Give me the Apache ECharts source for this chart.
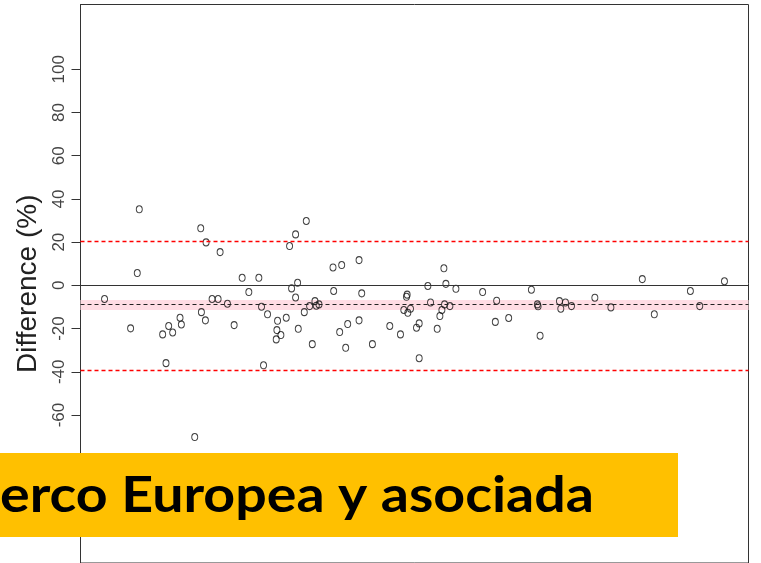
<!DOCTYPE html>
<html>
<head>
<meta charset="utf-8">
<script src="https://cdn.jsdelivr.net/npm/echarts@6/dist/echarts.min.js"></script>
<style>
  html, body { margin: 0; padding: 0; background: #fff; }
  #chart { width: 761px; height: 563px; }
</style>
</head>
<body>
<div id="chart"></div>
<script>
// mean of the two methods (x) and difference in % (y)
var meanVals = [3.6, 7.5, 8.5, 8.8, 12.3, 12.8, 13.2, 13.8, 14.9, 15.1,
  17.1, 18.0, 18.1, 18.7, 18.8, 19.7, 20.6, 20.9, 22.0, 23.0,
  24.2, 25.2, 26.7, 27.1, 27.4, 28.0, 29.3, 29.4, 29.5, 30.0,
  30.8, 31.3, 31.6, 32.2, 32.2, 32.5, 32.6, 33.5, 33.8, 34.3,
  34.7, 35.1, 35.3, 35.7, 37.8, 37.9, 38.8, 39.1, 39.7, 40.0,
  41.7, 41.7, 42.1, 43.7, 46.3, 47.9, 48.4, 48.8, 48.9, 49.0,
  49.4, 50.3, 50.7, 50.7, 52.0, 52.4, 53.4, 53.8, 54.1, 54.4,
  54.5, 54.7, 55.3, 56.2, 60.2, 62.1, 62.3, 64.1, 67.5, 68.4,
  68.5, 68.8, 71.7, 71.9, 72.6, 73.5, 77.0, 79.4, 84.1, 85.9,
  91.3, 92.7, 96.4];
var diffVals = [-6.3, -19.9, 5.7, 35.2, -22.7, -36.0, -18.8, -21.8, -15.0, -18.1,
  -70.2, 26.4, -12.4, -16.2, 19.9, -6.3, -6.3, 15.4, -8.5, -18.4,
  3.5, -3.1, 3.5, -9.9, -37.0, -13.4, -25.0, -20.7, -16.4, -23.0,
  -15.0, 18.2, -1.4, 23.6, -5.6, 1.2, -20.1, -12.4, 29.8, -9.6,
  -27.2, -7.3, -9.4, -8.8, 8.3, -2.6, -21.6, 9.4, -28.9, -17.9,
  11.7, -16.2, -3.7, -27.2, -18.8, -22.7, -11.4, -5.3, -4.3, -12.7,
  -10.8, -19.6, -17.6, -33.7, -0.3, -7.9, -20.1, -14.2, -11.4, 7.9,
  -8.8, 0.7, -9.6, -1.6, -3.1, -16.9, -7.1, -15.1, -2.0, -8.8,
  -9.7, -23.3, -7.3, -10.8, -7.9, -9.6, -5.7, -10.2, 2.9, -13.4,
  -2.6, -9.6, 1.9];

var yTicks = [-60, -40, -20, 0, 20, 40, 60, 80, 100];
var meanDiff = -8.7;
var upperLoA = 20.4;
var lowerLoA = -39.1;
var ciBand = [-11.4, -6.8];
var bannerText = "erco Europea y asociada";

var points = [];
for (var i = 0; i < meanVals.length; i++) {
  points.push([meanVals[i], diffVals[i]]);
}

var myChart = echarts.init(document.getElementById("chart"));
var option = {
  animation: false,
  grid: {
    left: 80.5,
    right: 12.5,
    top: 4.5,
    bottom: 0,
    show: true,
    borderColor: "#333",
    borderWidth: 1,
  },
  xAxis: {
    type: "value",
    min: 0,
    max: 100,
    show: false,
  },
  yAxis: {
    type: "value",
    min: -128.5,
    max: 130,
    name: "Difference (%)",
    nameLocation: "middle",
    nameRotate: 90,
    nameGap: 16,
    nameTextStyle: {
      fontFamily: "Liberation Sans",
      fontSize: 28,
      color: "#222",
    },
    axisLine: { show: true, lineStyle: { color: "#333" } },
    axisTick: {
      show: true,
      length: 9,
      customValues: yTicks,
      lineStyle: { color: "#333" },
    },
    axisLabel: {
      customValues: yTicks,
      rotate: 90,
      margin: 13,
      fontFamily: "Liberation Sans",
      fontSize: 17,
      color: "#444",
    },
    splitLine: { show: false },
  },
  series: [
    {
      type: "scatter",
      data: points,
      symbol: "circle",
      symbolSize: [6, 7],
      itemStyle: {
        color: "rgba(0,0,0,0)",
        borderColor: "#111",
        borderWidth: 1,
      },
      markArea: {
        silent: true,
        itemStyle: { color: "#ffdde4" },
        data: [[{ yAxis: ciBand[0] }, { yAxis: ciBand[1] }]],
      },
      markLine: {
        silent: true,
        symbol: "none",
        label: { show: false },
        data: [
          { yAxis: 0, lineStyle: { color: "#333", width: 1.2, type: "solid" } },
          { yAxis: meanDiff, lineStyle: { color: "#222", width: 1.1, type: [4, 3] } },
          { yAxis: upperLoA, lineStyle: { color: "#ff0000", width: 1.3, type: [4, 3] } },
          { yAxis: lowerLoA, lineStyle: { color: "#ff0000", width: 1.3, type: [4, 3] } },
        ],
      },
    },
  ],
  graphic: [
    {
      type: "rect",
      z: 100,
      shape: { x: 0, y: 453, width: 678, height: 84 },
      style: { fill: "#ffc000" },
    },
    {
      type: "text",
      z: 101,
      x: 0,
      y: 496,
      scaleX: 1.11,
      style: {
        text: bannerText,
        font: "bold 50px Lato",
        fill: "#000",
        verticalAlign: "middle",
      },
    },
  ],
};
option && myChart.setOption(option);
</script>
</body>
</html>
